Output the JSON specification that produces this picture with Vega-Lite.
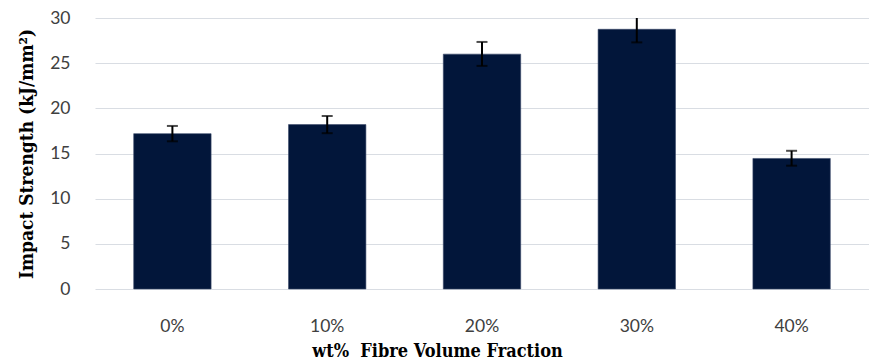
{
  "$schema": "https://vega.github.io/schema/vega-lite/v6.json",
  "width": 774,
  "height": 271,
  "autosize": {"type": "none"},
  "padding": {"left": 95, "top": 18, "right": 0, "bottom": 72},
  "background": "white",
  "config": {"view": {"stroke": null}},
  "data": {
    "values": [
      {"fraction": "0%", "strength": 17.2, "lo": 16.35, "hi": 18.05},
      {"fraction": "10%", "strength": 18.2, "lo": 17.25, "hi": 19.15},
      {"fraction": "20%", "strength": 26.0, "lo": 24.7, "hi": 27.35},
      {"fraction": "30%", "strength": 28.75, "lo": 27.3, "hi": 30.2},
      {"fraction": "40%", "strength": 14.45, "lo": 13.65, "hi": 15.3}
    ]
  },
  "encoding": {
    "x": {
      "field": "fraction",
      "type": "ordinal",
      "sort": null,
      "scale": {"paddingInner": 0.5, "paddingOuter": 0.25},
      "axis": {
        "title": "wt%\u00a0 Fibre Volume Fraction",
        "titleFont": "DejaVu Serif Condensed",
        "titleFontSize": 18,
        "titleFontWeight": "bold",
        "titleColor": "#000000",
        "titleX": 342,
        "titleAlign": "center",
        "titleY": 67,
        "titleBaseline": "alphabetic",
        "labelAngle": 0,
        "labelFont": "Lato",
        "labelFontSize": 17.5,
        "labelColor": "#404040",
        "labelPadding": 28,
        "domain": false,
        "ticks": false
      }
    }
  },
  "layer": [
    {
      "mark": {"type": "bar", "color": "#02163a", "stroke": "#3a4a6a", "strokeWidth": 0.6},
      "encoding": {
        "y": {
          "field": "strength",
          "type": "quantitative",
          "scale": {"domain": [0, 30]},
          "axis": {
            "title": "Impact Strength (kJ/mm²)",
            "titleFont": "DejaVu Serif Condensed",
            "titleFontSize": 19,
            "titleFontWeight": "bold",
            "titleColor": "#000000",
            "titlePadding": 13,
            "values": [0, 5, 10, 15, 20, 25, 30],
            "labelFont": "Lato",
            "labelFontSize": 17.5,
            "labelColor": "#404040",
            "labelPadding": 25,
            "domain": false,
            "ticks": false,
            "grid": true,
            "gridColor": "#d9dde3",
            "gridWidth": 1.2
          }
        }
      }
    },
    {
      "mark": {"type": "rule", "color": "#000000", "strokeWidth": 2, "clip": true},
      "encoding": {
        "y": {"field": "lo", "type": "quantitative"},
        "y2": {"field": "hi"}
      }
    },
    {
      "mark": {"type": "tick", "color": "#000000", "thickness": 2, "size": 11, "clip": true},
      "encoding": {"y": {"field": "lo", "type": "quantitative"}}
    },
    {
      "mark": {"type": "tick", "color": "#000000", "thickness": 2, "size": 11, "clip": true},
      "encoding": {"y": {"field": "hi", "type": "quantitative"}}
    }
  ]
}
